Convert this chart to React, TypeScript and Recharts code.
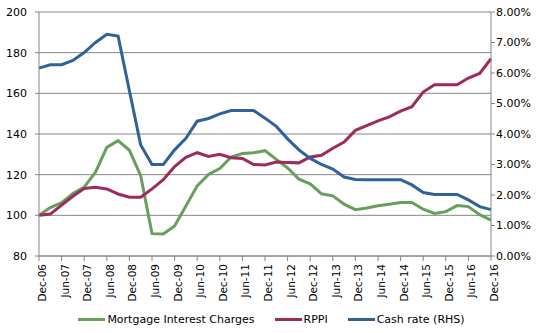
import { LineChart, Line, XAxis, YAxis, CartesianGrid, Legend } from 'recharts';

const quarters = [
  'Dec-06', 'Mar-07', 'Jun-07', 'Sep-07', 'Dec-07', 'Mar-08', 'Jun-08', 'Sep-08',
  'Dec-08', 'Mar-09', 'Jun-09', 'Sep-09', 'Dec-09', 'Mar-10', 'Jun-10', 'Sep-10',
  'Dec-10', 'Mar-11', 'Jun-11', 'Sep-11', 'Dec-11', 'Mar-12', 'Jun-12', 'Sep-12',
  'Dec-12', 'Mar-13', 'Jun-13', 'Sep-13', 'Dec-13', 'Mar-14', 'Jun-14', 'Sep-14',
  'Dec-14', 'Mar-15', 'Jun-15', 'Sep-15', 'Dec-15', 'Mar-16', 'Jun-16', 'Sep-16',
  'Dec-16',
];

const mortgageCharges = [
  100, 103.8, 106.2, 110.8, 113.9, 121.2, 133.4, 136.7, 132, 119.5,
  91, 90.8, 94.8, 104.6, 114.5, 120.1, 123, 128.7, 130.4, 130.8,
  131.8, 127.5, 123.3, 117.8, 115.5, 110.6, 109.6, 105.5, 102.8, 103.6,
  104.7, 105.4, 106.3, 106.3, 103, 100.9, 101.8, 104.8, 104.3, 100.3,
  97.6,
];

const rppi = [
  100, 100.6, 105, 109.4, 113.2, 113.8, 113, 110.5, 108.9, 108.9,
  113, 117.5, 124, 128.5, 130.8, 129, 130, 128.3, 128, 125,
  124.8, 126.2, 126, 125.8, 128.7, 129.5, 133, 136, 141.8, 144.1,
  146.5, 148.4, 151.2, 153.4, 160.6, 164.2, 164.2, 164.2, 167.5, 169.8,
  177,
];

const cashRate = [
  6.16, 6.27, 6.27, 6.41, 6.67, 7.0, 7.27, 7.21, 5.42, 3.64,
  3.0, 3.0, 3.48, 3.86, 4.42, 4.51, 4.66, 4.77, 4.77, 4.77,
  4.52, 4.25, 3.84, 3.48, 3.2, 3.0, 2.85, 2.59, 2.51, 2.5,
  2.5, 2.5, 2.5, 2.33, 2.08, 2.02, 2.02, 2.02, 1.84, 1.62,
  1.52,
];

const leftTicks = [80, 100, 120, 140, 160, 180, 200];
const rightTicks = [0, 1, 2, 3, 4, 5, 6, 7, 8];

const data = quarters.map((q, i) => ({
  q,
  mic: mortgageCharges[i],
  rppi: rppi[i],
  cash: cashRate[i],
}));

const GREEN = '#67a05c';
const MAROON = '#9b2c5d';
const BLUE = '#2f6299';
const GREY = '#868686';
const FONT = '"DejaVu Sans", Verdana, sans-serif';

const legendItems = [
  { name: 'Mortgage Interest Charges', color: GREEN },
  { name: 'RPPI', color: MAROON },
  { name: 'Cash rate (RHS)', color: BLUE },
];

function XTick({ x, y, payload }: any) {
  return (
    <text
      x={x}
      y={y}
      dx={-3}
      dy={7}
      transform={`rotate(-90, ${x}, ${y})`}
      textAnchor="end"
      fontSize={10.5}
      fontFamily={FONT}
      fill="#000"
    >
      {payload.value}
    </text>
  );
}

function LegendBox() {
  return (
    <div style={{ height: 20, display: 'flex', justifyContent: 'center', alignItems: 'flex-start', gap: 20, marginTop: -3 }}>
      {legendItems.map((item) => (
        <div key={item.name} style={{ display: 'flex', alignItems: 'center' }}>
          <div style={{ width: 27, height: 3, backgroundColor: item.color, marginRight: 2 }}></div>
          <span style={{ fontSize: 11, fontFamily: FONT, color: '#000' }}>{item.name}</span>
        </div>
      ))}
    </div>
  );
}

export default function App() {
  return (
    <div style={{ position: 'absolute', left: 0, top: 0, width: 543, height: 333, background: '#fff' }}>
      <LineChart width={543} height={333} data={data} margin={{ top: 12, right: 0, bottom: 0, left: 0 }}>
        <CartesianGrid yAxisId="left" vertical={false} stroke={GREY} strokeWidth={1} />
        <XAxis
          dataKey="q"
          interval={1}
          height={60}
          tick={<XTick />}
          tickSize={5}
          tickMargin={0}
          stroke={GREY}
          tickLine={{ stroke: GREY }}
        />
        <YAxis
          yAxisId="left"
          domain={[80, 200]}
          ticks={leftTicks}
          width={39}
          tickSize={4}
          tickMargin={8}
          stroke={GREY}
          tick={{ fontSize: 11, fontFamily: FONT, fill: '#000' }}
        />
        <YAxis
          yAxisId="right"
          orientation="right"
          domain={[0, 8]}
          ticks={rightTicks}
          width={52}
          tickSize={4}
          tickMargin={1}
          stroke={GREY}
          tickFormatter={(v) => `${v.toFixed(2)}%`}
          tick={{ fontSize: 11, fontFamily: FONT, fill: '#000', textAnchor: 'start' }}
        />
        <Legend verticalAlign="bottom" content={<LegendBox />} />
        <Line yAxisId="left" type="linear" dataKey="mic" stroke={GREEN} strokeWidth={3} dot={false} isAnimationActive={false} name="Mortgage Interest Charges" />
        <Line yAxisId="left" type="linear" dataKey="rppi" stroke={MAROON} strokeWidth={3} dot={false} isAnimationActive={false} name="RPPI" />
        <Line yAxisId="right" type="linear" dataKey="cash" stroke={BLUE} strokeWidth={3} dot={false} isAnimationActive={false} name="Cash rate (RHS)" />
      </LineChart>
    </div>
  );
}
